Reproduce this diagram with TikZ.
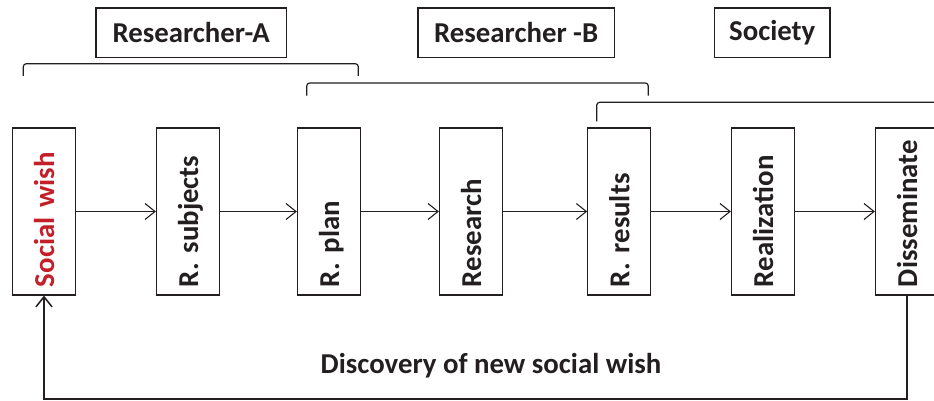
\documentclass[tikz,border=0pt]{standalone}
\usepackage{fontspec}
\setmainfont{Carlito}
\usetikzlibrary{arrows.meta}
\definecolor{wishred}{RGB}{196,30,40}
\definecolor{ink}{RGB}{35,31,32}
\begin{document}
\begin{tikzpicture}[x=1pt,y=-1pt,
  every node/.style={font=\bfseries\fontsize{28.8}{30}\selectfont, text=ink},
  stepbox/.style={draw=ink, line width=1.2pt, rotate=90, minimum width=167pt, minimum height=63pt, inner xsep=8pt, inner ysep=0pt, text width=151pt, align=left, text height=20pt, text depth=0pt},
  headbox/.style={draw=ink, line width=1.2pt, inner sep=0pt, minimum height=49.3pt},
  flow/.style={draw=ink, line width=1.1pt, -{Straight Barb[length=10pt,width=16pt]}},
  brace/.style={draw=ink, line width=1.2pt, rounded corners=3pt}]
\clip (0,0) rectangle (934,401);
% header boxes
\node[headbox, minimum width=190.7pt] (hA) at (191.3,32.7) {Researcher-A};
\node[headbox, minimum width=196.3pt] (hB) at (516.2,32.7) {Researcher -B};
\node[headbox, minimum width=115.7pt] (hS) at (772.2,32.7) {Society};
% brackets
\coordinate (b1a) at (23.3,76);
\coordinate (b1b) at (358.3,76);
\coordinate (b2a) at (306.7,95.7);
\coordinate (b2b) at (648.3,95.7);
\coordinate (b3a) at (596.7,121.3);
\coordinate (b3b) at (980,121.3);
\draw[brace] (b1a) -- ++(0,-12.3) -| (b1b);
\draw[brace] (b2a) -- ++(0,-12.7) -| (b2b);
\draw[brace] (b3a) -- ++(0,-19) -| (b3b);
% step boxes
\node[stepbox] (d1) at (44,211.5) {\textcolor{wishred}{Social wish}};
\node[stepbox] (d2) at (188,211.5) {R. subjects};
\node[stepbox] (d3) at (329,211.5) {R. plan};
\node[stepbox] (d4) at (471,211.5) {Research};
\node[stepbox] (d5) at (619.3,211.5) {R. results};
\node[stepbox] (d6) at (763,211.5) {Realization};
\node[stepbox] (d7) at (907,211.5) {Disseminate};
% flow arrows
\draw[flow] (d1) -- (d2);
\draw[flow] (d2) -- (d3);
\draw[flow] (d3) -- (d4);
\draw[flow] (d4) -- (d5);
\draw[flow] (d5) -- (d6);
\draw[flow] (d6) -- (d7);
% feedback
\draw[flow, line width=1.5pt] (d7.west) -- ++(0,103.5) -| (d1.west);
\node (fb) at (491,366) {Discovery of new social wish};
\end{tikzpicture}
\end{document}
